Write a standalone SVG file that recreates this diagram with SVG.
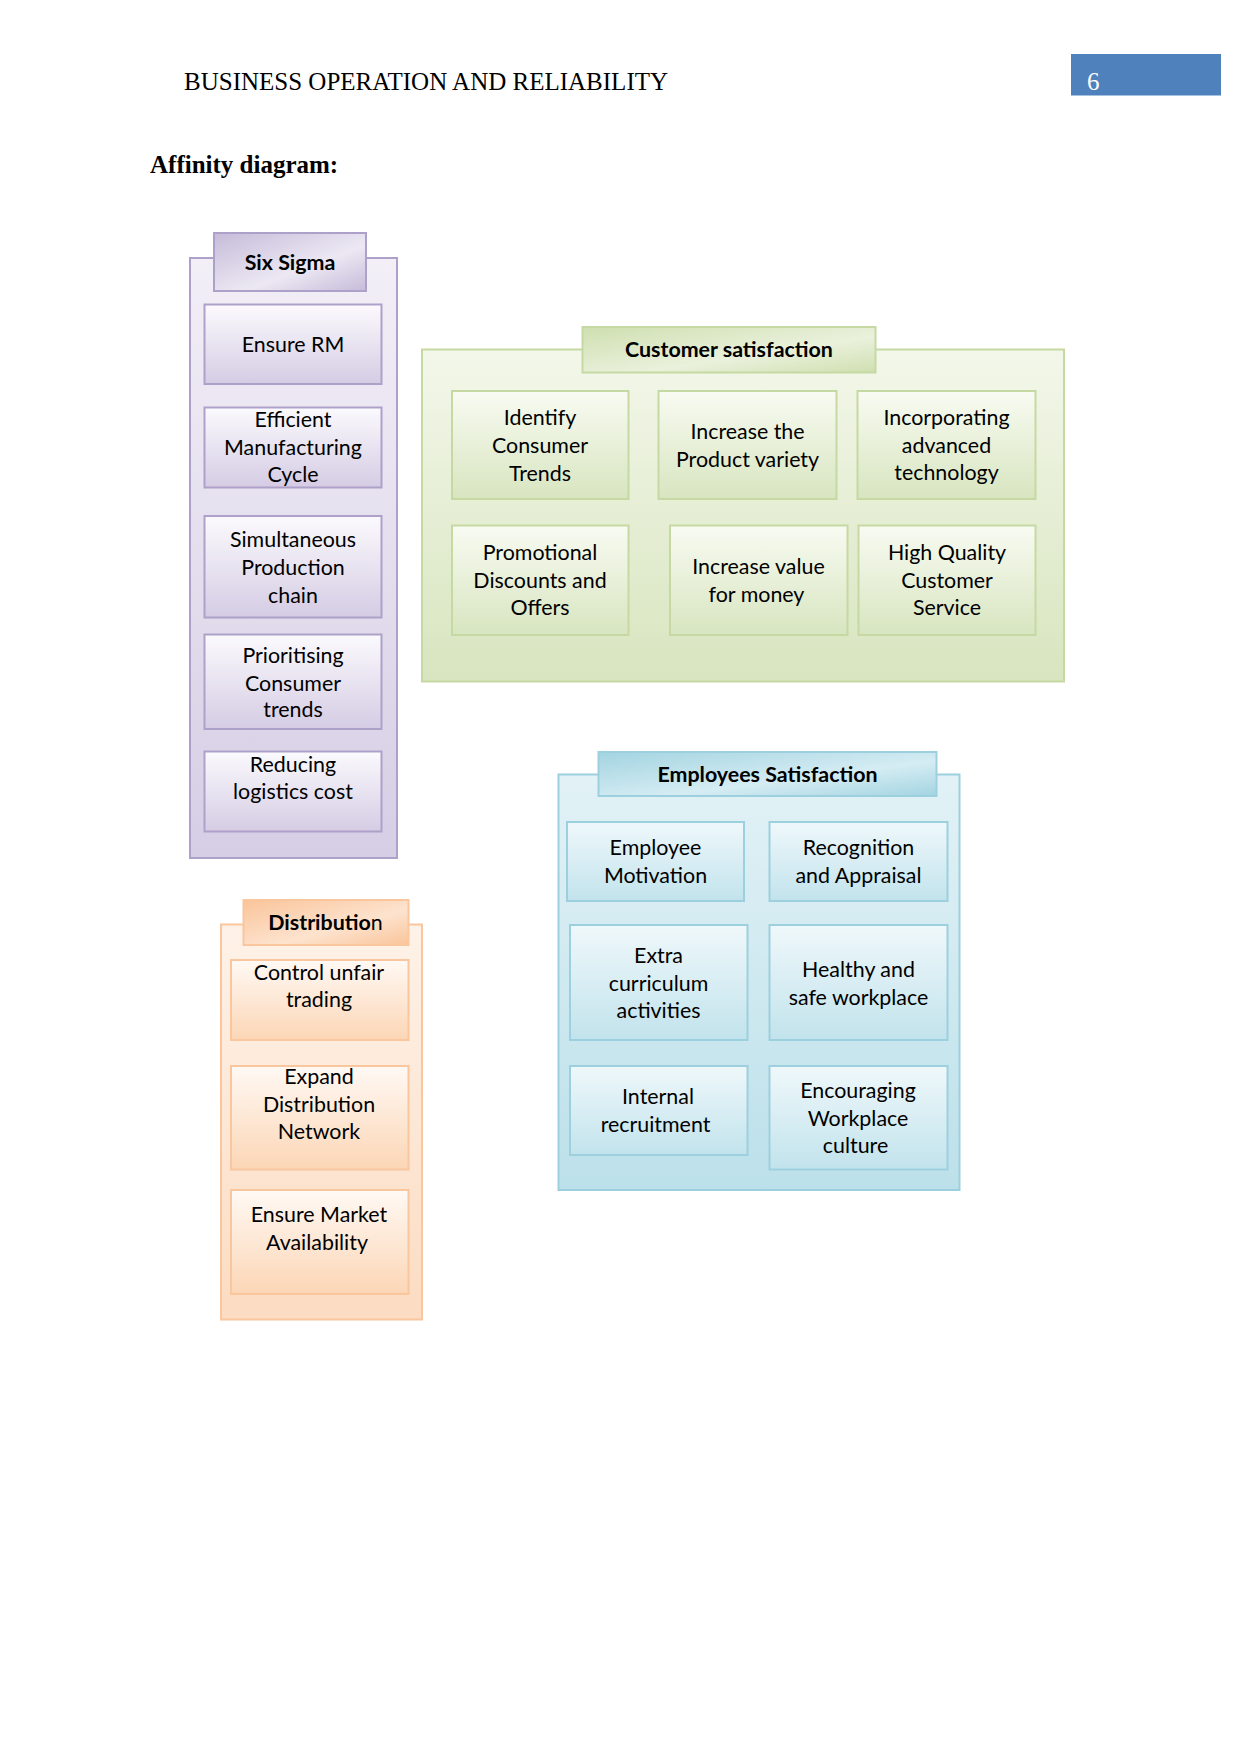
<svg xmlns="http://www.w3.org/2000/svg" width="1241" height="1754" viewBox="0 0 1241 1754">
<defs>
<linearGradient id="pO" x1="0" y1="0" x2="0" y2="1"><stop offset="0" stop-color="#F2EFF7"/><stop offset="1" stop-color="#D6CEE5"/></linearGradient>
<linearGradient id="pB" x1="0" y1="0" x2="0" y2="1"><stop offset="0" stop-color="#FBFAFD"/><stop offset="1" stop-color="#D5CCE4"/></linearGradient>
<linearGradient id="pH" x1="0" y1="0" x2="1" y2="1"><stop offset="0" stop-color="#C6BBD9"/><stop offset="0.6" stop-color="#ECE8F3"/><stop offset="1" stop-color="#C6BBD9"/></linearGradient>
<linearGradient id="gO" x1="0" y1="0" x2="0" y2="1"><stop offset="0" stop-color="#F3F7EA"/><stop offset="1" stop-color="#D8E5BF"/></linearGradient>
<linearGradient id="gB" x1="0" y1="0" x2="0" y2="1"><stop offset="0" stop-color="#F8FBF2"/><stop offset="1" stop-color="#D8E5C0"/></linearGradient>
<linearGradient id="gH" x1="0" y1="0" x2="1" y2="1"><stop offset="0" stop-color="#CFDFB0"/><stop offset="0.6" stop-color="#EAF1DC"/><stop offset="1" stop-color="#CFDFB0"/></linearGradient>
<linearGradient id="oO" x1="0" y1="0" x2="0" y2="1"><stop offset="0" stop-color="#FEF2E8"/><stop offset="1" stop-color="#FCDCC2"/></linearGradient>
<linearGradient id="oB" x1="0" y1="0" x2="0" y2="1"><stop offset="0" stop-color="#FFF9F4"/><stop offset="1" stop-color="#FCD6B6"/></linearGradient>
<linearGradient id="oH" x1="0" y1="0" x2="1" y2="1"><stop offset="0" stop-color="#FAC49A"/><stop offset="0.6" stop-color="#FDE3CE"/><stop offset="1" stop-color="#FAC49A"/></linearGradient>
<linearGradient id="bO" x1="0" y1="0" x2="0" y2="1"><stop offset="0" stop-color="#E2F2F6"/><stop offset="1" stop-color="#BCE0EA"/></linearGradient>
<linearGradient id="bB" x1="0" y1="0" x2="0" y2="1"><stop offset="0" stop-color="#EFF8FB"/><stop offset="1" stop-color="#C2E3EC"/></linearGradient>
<linearGradient id="bH" x1="0" y1="0" x2="1" y2="1"><stop offset="0" stop-color="#A3D4E1"/><stop offset="0.6" stop-color="#D5ECF3"/><stop offset="1" stop-color="#A3D4E1"/></linearGradient>
</defs>
<style>
.hdr{font-family:"Liberation Serif","Times New Roman",serif;font-size:25px;fill:#000}
.t{font-family:Lato,"Liberation Sans",sans-serif;font-size:21.4px;fill:#000;text-anchor:middle}
.h{font-family:Lato,"Liberation Sans",sans-serif;font-size:21.4px;font-weight:bold;fill:#000;text-anchor:middle}
.p{stroke:#ADA1C9;stroke-width:2}
.g{stroke:#C6D9A2;stroke-width:2}
.o{stroke:#F9C69E;stroke-width:2}
.b{stroke:#9DD0DE;stroke-width:2}
</style>
<rect width="1241" height="1754" fill="#FFFFFF"/>
<g id="page-header">
<text class="hdr" x="184" y="90">BUSINESS OPERATION AND RELIABILITY</text>
<rect x="1071" y="54" width="150" height="41.5" fill="#4F81BD"/>
<text class="hdr" x="1087" y="90" style="fill:#FFFFFF">6</text>
<text class="hdr" x="150" y="173" font-weight="bold">Affinity diagram:</text>
</g>
<g id="connectors"/>
<g id="six-sigma">
<rect class="p" x="190" y="258" width="207" height="600" fill="url(#pO)"/>
<rect class="p" x="214" y="233" width="152" height="58" fill="url(#pH)"/>
<text class="h" x="290" y="270">Six Sigma</text>
<g id="ensure-rm"><rect class="p" x="204.5" y="304.5" width="177" height="79.5" fill="url(#pB)"/><text class="t" x="293" y="352">Ensure RM</text></g>
<g id="efficient-manufacturing"><rect class="p" x="204.5" y="407.5" width="177" height="80" fill="url(#pB)"/><text class="t" x="293" y="427">Efficient</text><text class="t" x="293" y="455">Manufacturing</text><text class="t" x="293" y="482">Cycle</text></g>
<g id="simultaneous-production"><rect class="p" x="204.5" y="516" width="177" height="101.5" fill="url(#pB)"/><text class="t" x="293" y="547">Simultaneous</text><text class="t" x="293" y="575">Production</text><text class="t" x="293" y="602.5">chain</text></g>
<g id="prioritising-consumer"><rect class="p" x="204.5" y="634.5" width="177" height="94.5" fill="url(#pB)"/><text class="t" x="293" y="663">Prioritising</text><text class="t" x="293" y="690.5">Consumer</text><text class="t" x="293" y="717">trends</text></g>
<g id="reducing-logistics"><rect class="p" x="204.5" y="751.5" width="177" height="80" fill="url(#pB)"/><text class="t" x="293" y="771.5">Reducing</text><text class="t" x="293" y="799">logistics cost</text></g>
</g>
<g id="customer-satisfaction">
<rect class="g" x="422" y="349.5" width="642" height="332" fill="url(#gO)"/>
<rect class="g" x="582.5" y="327" width="293" height="45.5" fill="url(#gH)"/>
<text class="h" x="729" y="357">Customer satisfaction</text>
<g id="identify-consumer"><rect class="g" x="452" y="391" width="176.5" height="108" fill="url(#gB)"/><text class="t" x="540" y="425">Identify</text><text class="t" x="540" y="452.5">Consumer</text><text class="t" x="540" y="480.5">Trends</text></g>
<g id="increase-variety"><rect class="g" x="658.5" y="391" width="178" height="108" fill="url(#gB)"/><text class="t" x="747.5" y="439">Increase the</text><text class="t" x="747.5" y="466.5">Product variety</text></g>
<g id="advanced-technology"><rect class="g" x="857.5" y="391" width="178" height="108" fill="url(#gB)"/><text class="t" x="946.5" y="425">Incorporating</text><text class="t" x="946.5" y="452.5">advanced</text><text class="t" x="946.5" y="480">technology</text></g>
<g id="promotional-discounts"><rect class="g" x="452" y="525.5" width="176.5" height="109.5" fill="url(#gB)"/><text class="t" x="540" y="560">Promotional</text><text class="t" x="540" y="587.5">Discounts and</text><text class="t" x="540" y="615">Offers</text></g>
<g id="value-for-money"><rect class="g" x="670" y="525.5" width="177.5" height="109.5" fill="url(#gB)"/><text class="t" x="758.5" y="574">Increase value</text><text class="t" x="756.5" y="601.5">for money</text></g>
<g id="customer-service"><rect class="g" x="858.5" y="525.5" width="177" height="109.5" fill="url(#gB)"/><text class="t" x="947" y="560">High Quality</text><text class="t" x="947" y="587.5">Customer</text><text class="t" x="947" y="615">Service</text></g>
</g>
<g id="employees-satisfaction">
<rect class="b" x="558.5" y="774.5" width="401" height="415.5" fill="url(#bO)"/>
<rect class="b" x="598.5" y="752" width="338" height="44" fill="url(#bH)"/>
<text class="h" x="767.5" y="782">Employees Satisfaction</text>
<g id="employee-motivation"><rect class="b" x="567" y="822" width="177" height="79" fill="url(#bB)"/><text class="t" x="655.5" y="855">Employee</text><text class="t" x="655.5" y="882.5">Motivation</text></g>
<g id="recognition-appraisal"><rect class="b" x="769.5" y="822" width="178" height="79" fill="url(#bB)"/><text class="t" x="858.5" y="855">Recognition</text><text class="t" x="858.5" y="882.5">and Appraisal</text></g>
<g id="extra-curriculum"><rect class="b" x="570" y="925" width="177.5" height="115" fill="url(#bB)"/><text class="t" x="658.5" y="962.5">Extra</text><text class="t" x="658.5" y="990.5">curriculum</text><text class="t" x="658.5" y="1018">activities</text></g>
<g id="healthy-workplace"><rect class="b" x="769.5" y="925" width="178" height="115" fill="url(#bB)"/><text class="t" x="858.5" y="977">Healthy and</text><text class="t" x="858.5" y="1005">safe workplace</text></g>
<g id="internal-recruitment"><rect class="b" x="570" y="1066" width="177.5" height="89" fill="url(#bB)"/><text class="t" x="658" y="1104">Internal</text><text class="t" x="655.5" y="1131.5">recruitment</text></g>
<g id="workplace-culture"><rect class="b" x="769.5" y="1066" width="178" height="103.5" fill="url(#bB)"/><text class="t" x="858" y="1098">Encouraging</text><text class="t" x="858" y="1126">Workplace</text><text class="t" x="855.5" y="1153">culture</text></g>
</g>
<g id="distribution">
<rect class="o" x="221" y="924.5" width="201" height="395" fill="url(#oO)"/>
<rect class="o" x="243.5" y="900" width="165" height="45" fill="url(#oH)"/>
<text class="h" x="325.5" y="930">Distributio<tspan font-weight="normal">n</tspan></text>
<g id="control-unfair-trading"><rect class="o" x="231" y="960" width="177.5" height="80" fill="url(#oB)"/><text class="t" x="319" y="980">Control unfair</text><text class="t" x="319" y="1007">trading</text></g>
<g id="expand-distribution"><rect class="o" x="231" y="1066" width="177.5" height="103.5" fill="url(#oB)"/><text class="t" x="319" y="1084">Expand</text><text class="t" x="319" y="1111.5">Distribution</text><text class="t" x="319" y="1139">Network</text></g>
<g id="market-availability"><rect class="o" x="231" y="1190" width="177.5" height="104" fill="url(#oB)"/><text class="t" x="319" y="1221.5">Ensure Market</text><text class="t" x="317" y="1249.5">Availability</text></g>
</g>
</svg>
